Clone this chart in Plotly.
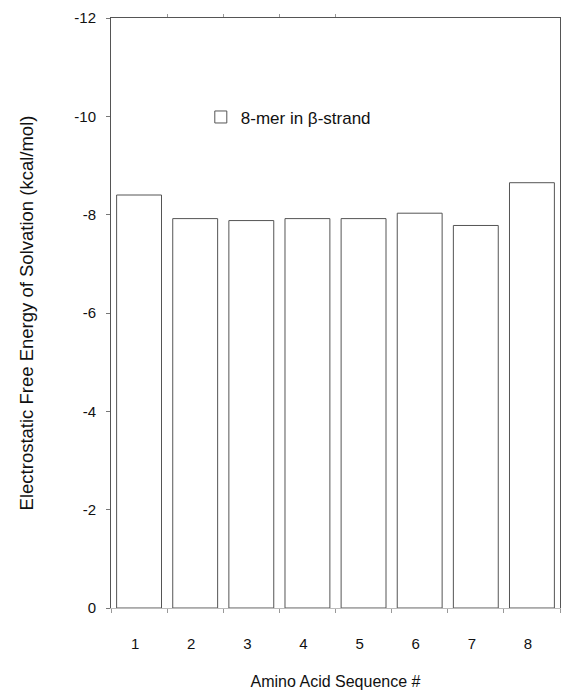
import plotly.graph_objects as go

residues = [1, 2, 3, 4, 5, 6, 7, 8]
tick_labels = ["1", "2", "3", "4", "5", "6", "7", "8"]
solvation_energy = [-8.40, -7.92, -7.88, -7.92, -7.92, -8.03, -7.78, -8.65]
y_ticks = [0, -2, -4, -6, -8, -10, -12]
y_tick_labels = ["0", "-2", "-4", "-6", "-8", "-10", "-12"]
series_name = "8-mer in \u03b2-strand"

FONT = "Liberation Sans, Arial, Helvetica, sans-serif"

fig = go.Figure()
fig.add_trace(go.Bar(
    x=residues,
    y=solvation_energy,
    width=0.8,
    name=series_name,
    marker=dict(color="rgba(255,255,255,0)", line=dict(color="#555555", width=1)),
    showlegend=True,
))
# invisible trace to host the top frame axis
fig.add_trace(go.Scatter(x=[residues[0]], y=[0], xaxis="x2", mode="markers",
                         marker=dict(opacity=0), showlegend=False, hoverinfo="skip"))

fig.update_layout(
    width=561, height=690,
    margin=dict(l=111, r=1, t=18, b=82),
    plot_bgcolor="white", paper_bgcolor="white",
    font=dict(family=FONT, color="#111111", size=15),
    showlegend=True,
    legend=dict(x=0.2, y=0.862, xanchor="left", yanchor="top",
                bgcolor="rgba(0,0,0,0)", font=dict(size=17, family=FONT),
                itemwidth=30, tracegroupgap=0),
    xaxis=dict(
        range=[0.5, 8.5],
        tickmode="array", tickvals=residues, ticktext=tick_labels,
        ticks="", showgrid=False, zeroline=False,
        showline=True, linecolor="#bbbbbb", linewidth=1,
        tickfont=dict(size=15),
        ticklabelstandoff=22, ticklabelshift=-4,
        minor=dict(tick0=0.5, dtick=1, ticks="outside", ticklen=4, tickcolor="#999999"),
        title=dict(text="Amino Acid Sequence #", font=dict(size=16), standoff=24),
    ),
    xaxis2=dict(
        overlaying="x", side="top", range=[0.5, 8.5],
        showticklabels=False, showgrid=False, zeroline=False,
        showline=True, linecolor="#555555", linewidth=1,
        tickmode="array", tickvals=[1.5, 2.5, 3.5, 4.5], ticks="outside", ticklen=3,
        tickcolor="#999999",
    ),
    yaxis=dict(
        range=[0, -12],
        tickmode="array", tickvals=y_ticks, ticktext=y_tick_labels,
        ticks="outside", ticklen=4, tickcolor="#777777",
        showgrid=False, zeroline=False,
        showline=True, linecolor="#555555", linewidth=1, mirror=True,
        tickfont=dict(size=15),
        ticklabelstandoff=7,
        title=dict(text="Electrostatic Free Energy of Solvation (kcal/mol)",
                   font=dict(size=18.5), standoff=35),
    ),
    bargap=0.2,
)

fig.write_html(
    "out.html",
    config={"displayModeBar": False},
    post_script="document.body.style.margin='0';document.body.style.overflow='hidden';",
)
